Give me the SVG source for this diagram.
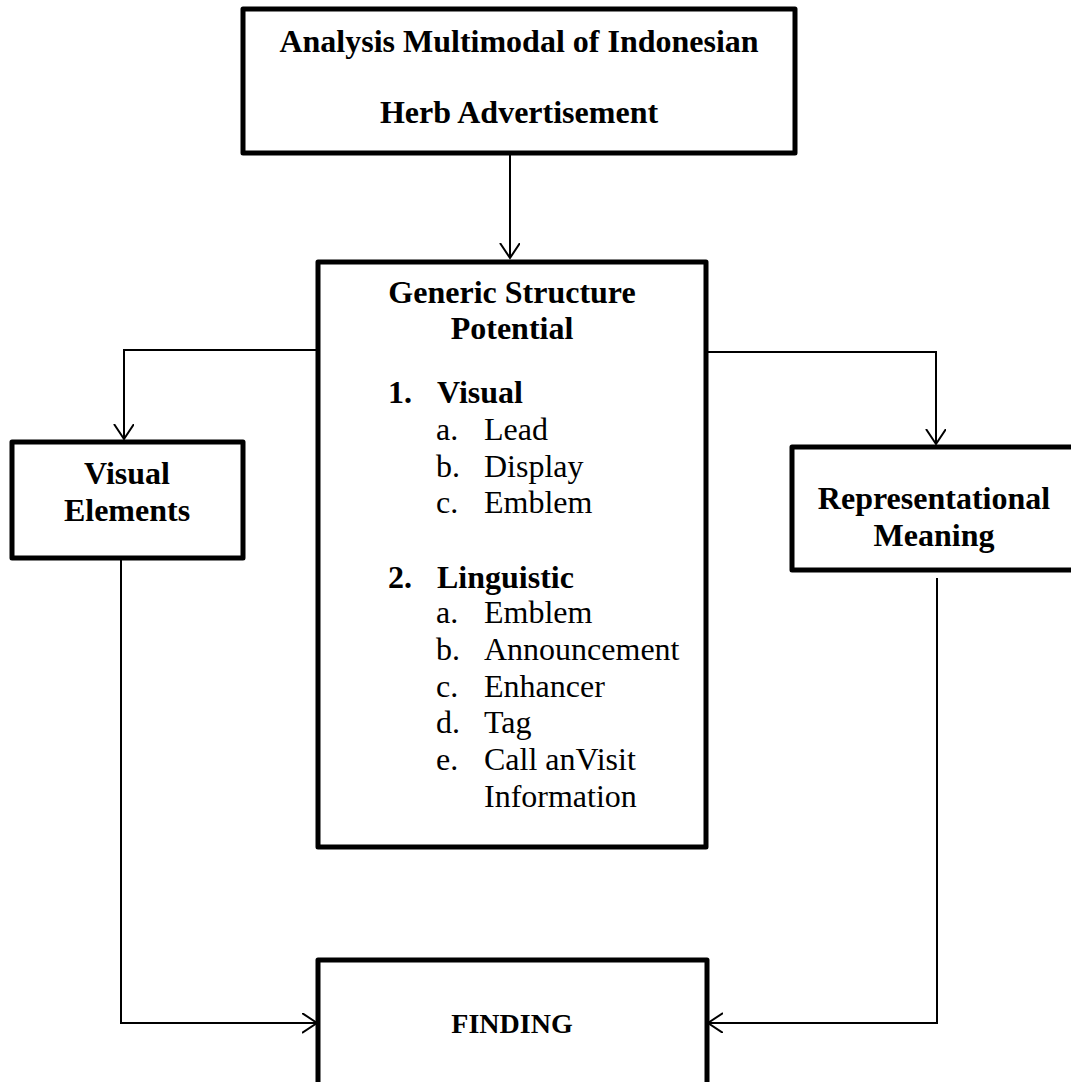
<svg xmlns="http://www.w3.org/2000/svg" width="1071" height="1082" viewBox="0 0 1071 1082">
<style>
.box{fill:#fff;stroke:#000;stroke-width:5;stroke-linejoin:round}
.conn{fill:none;stroke:#000;stroke-width:2}
text{font-family:"Liberation Serif","Times New Roman",serif;fill:#000;font-size:32px}
.b{font-weight:bold}
.c{text-anchor:middle}
</style>
<defs>
<marker id="arr" markerUnits="userSpaceOnUse" markerWidth="20" markerHeight="24" refX="15" refY="10" orient="auto">
<path d="M0,0 L15,10 L0,20" fill="none" stroke="#000" stroke-width="2"/>
</marker>
</defs>
<rect width="1071" height="1082" fill="#fff"/>
<g id="connectors">
<path class="conn" d="M510,153 V258" marker-end="url(#arr)"/>
<path class="conn" d="M318,350 H124 V439" marker-end="url(#arr)"/>
<path class="conn" d="M706,352 H936 V444" marker-end="url(#arr)"/>
<path class="conn" d="M121,558 V1023 H317" marker-end="url(#arr)"/>
<path class="conn" d="M937,578 V1023 H708" marker-end="url(#arr)"/>
</g>
<g id="node-top">
<rect class="box" x="243" y="9" width="552" height="144"/>
<text class="b c" x="519" y="52">Analysis Multimodal of Indonesian</text>
<text class="b c" x="519" y="123">Herb Advertisement</text>
</g>
<g id="node-gsp">
<rect class="box" x="318" y="262" width="388" height="585"/>
<text class="b c" x="512" y="303">Generic Structure</text>
<text class="b c" x="512" y="339">Potential</text>
<text class="b" x="388" y="403">1.</text>
<text class="b" x="437" y="403">Visual</text>
<text x="436" y="440">a.</text><text x="484" y="440">Lead</text>
<text x="436" y="477">b.</text><text x="484" y="477">Display</text>
<text x="436" y="513">c.</text><text x="484" y="513">Emblem</text>
<text class="b" x="388" y="588">2.</text>
<text class="b" x="437" y="588">Linguistic</text>
<text x="436" y="623">a.</text><text x="484" y="623">Emblem</text>
<text x="436" y="660">b.</text><text x="484" y="660">Announcement</text>
<text x="436" y="697">c.</text><text x="484" y="697">Enhancer</text>
<text x="436" y="733">d.</text><text x="484" y="733">Tag</text>
<text x="436" y="770">e.</text><text x="484" y="770">Call anVisit</text>
<text x="484" y="807">Information</text>
</g>
<g id="node-visual">
<rect class="box" x="12" y="442" width="231" height="116"/>
<text class="b c" x="127" y="484">Visual</text>
<text class="b c" x="127" y="521">Elements</text>
</g>
<g id="node-repr">
<rect class="box" x="792" y="447" width="290" height="123"/>
<text class="b c" x="934" y="509">Representational</text>
<text class="b c" x="934" y="546">Meaning</text>
</g>
<g id="node-finding">
<rect class="box" x="318" y="960" width="389" height="140"/>
<text class="b c" x="512" y="1033" style="font-size:28px">FINDING</text>
</g>
</svg>
